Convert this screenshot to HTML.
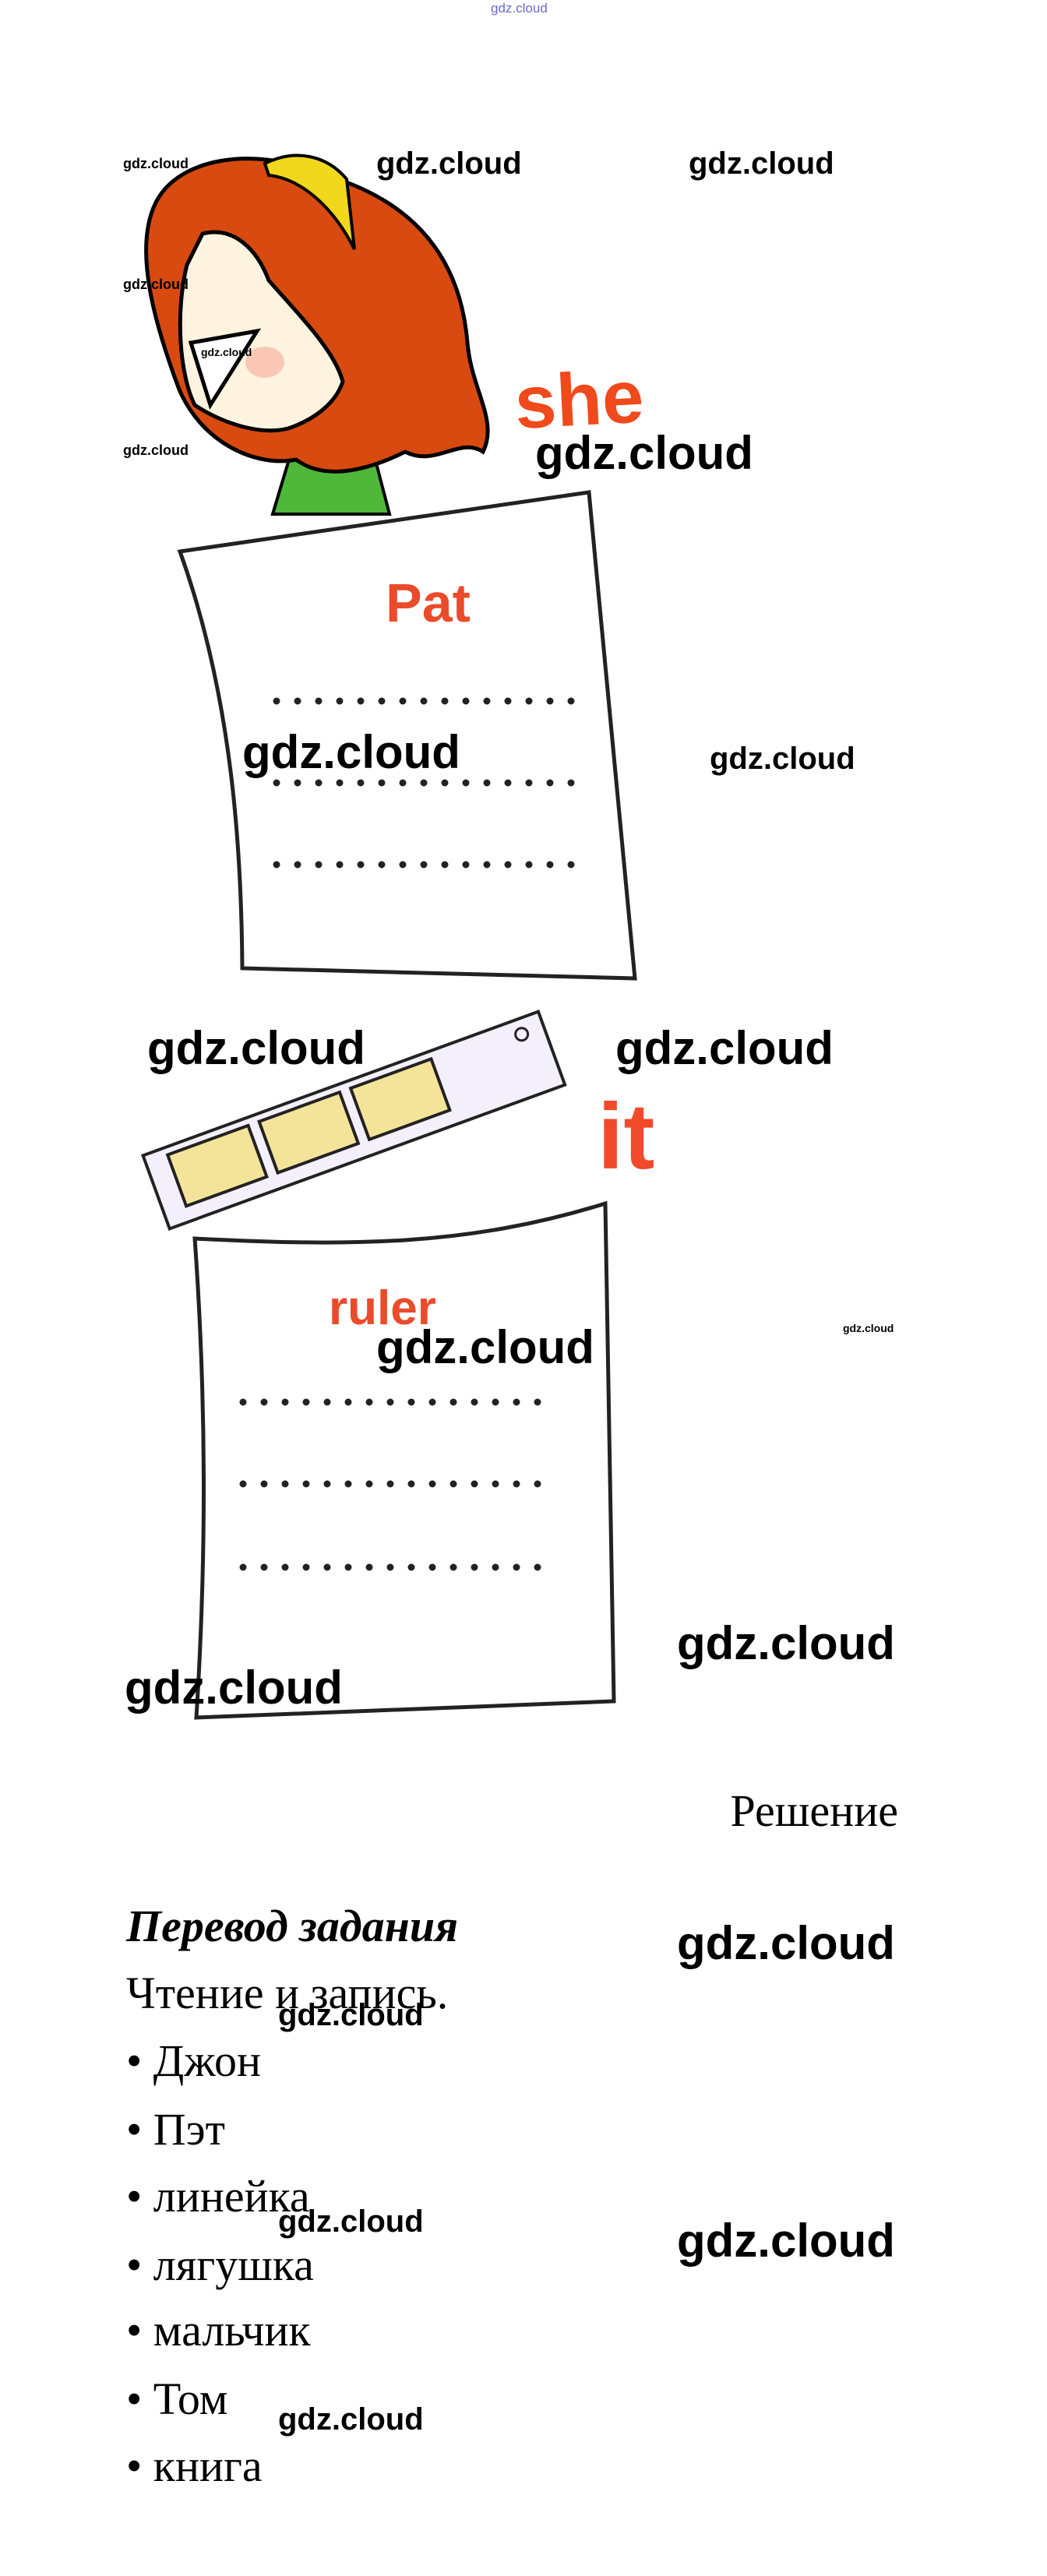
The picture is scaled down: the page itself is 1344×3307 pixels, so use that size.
<!DOCTYPE html>
<html><head><meta charset="utf-8">
<style>
html,body{margin:0;padding:0;background:#fff;}
body{width:1344px;height:3307px;position:relative;overflow:hidden;}
.w{position:absolute;font-family:"Liberation Sans",sans-serif;font-weight:bold;color:#000;white-space:nowrap;line-height:1;}
.L{font-size:60px;} .M{font-size:40px;} .S{font-size:18px;} .T{font-size:14px;}
.t{position:absolute;font-family:"Liberation Serif",serif;font-size:58px;line-height:1;white-space:nowrap;color:#000;}
</style></head><body>

<div class="w" style="left:630px;top:2px;font-size:17px;font-weight:normal;color:#6a6ac8;">gdz.cloud</div>

<svg width="1344" height="2300" style="position:absolute;left:0;top:0" xmlns="http://www.w3.org/2000/svg">
 <path d="M350 660 L380 560 L470 545 L500 660 Z" fill="#4fb83a" stroke="#000" stroke-width="4"/>
 <path d="M200 260 C230 200 330 190 400 220 C520 250 590 320 600 440 C605 500 640 540 620 580 C590 560 560 600 520 580 C480 600 420 620 380 590 C330 600 260 570 230 500 C200 420 170 320 200 260 Z" fill="#d94a10" stroke="#000" stroke-width="5"/>
 <path d="M260 300 C300 290 330 320 345 360 C380 400 430 450 440 490 C430 520 400 540 370 550 C330 560 280 540 250 520 C230 480 225 400 240 340 Z" fill="#fdf3df" stroke="#000" stroke-width="5"/>
 <path d="M245 440 L330 425 L270 520 Z" fill="#fff" stroke="#000" stroke-width="5"/>
 <ellipse cx="340" cy="465" rx="25" ry="20" fill="#f7b4a0" opacity="0.7"/>
 <path d="M340 210 C380 190 420 200 445 230 L455 320 C430 270 390 230 345 225 Z" fill="#f2d81c" stroke="#000" stroke-width="4"/>
 <text x="661" y="548" font-family="Liberation Sans, sans-serif" font-weight="bold" font-size="96" fill="#f04a1c" transform="rotate(-3 700 520)">she</text>
 <path d="M231 708 L756 632 L815 1256 L311 1243 C310 1100 300 900 231 708 Z" fill="#fff" stroke="#222" stroke-width="5"/>
 <text x="495" y="798" font-family="Liberation Sans, sans-serif" font-weight="bold" font-size="70" fill="#ea4b2a">Pat</text>
 <g stroke="#222" stroke-width="9" stroke-linecap="round" stroke-dasharray="0 27">
  <line x1="355" y1="900" x2="740" y2="900"/>
  <line x1="355" y1="1005" x2="740" y2="1005"/>
  <line x1="355" y1="1110" x2="740" y2="1110"/>
 </g>
 <g transform="rotate(-20 480 1450)">
  <rect x="190" y="1380" width="540" height="100" fill="#f4f0fb" stroke="#222" stroke-width="4"/>
  <rect x="220" y="1390" width="110" height="70" fill="#f4e49a" stroke="#222" stroke-width="4"/>
  <rect x="345" y="1390" width="110" height="70" fill="#f4e49a" stroke="#222" stroke-width="4"/>
  <rect x="470" y="1390" width="110" height="70" fill="#f4e49a" stroke="#222" stroke-width="4"/>
  <circle cx="700" cy="1400" r="8" fill="none" stroke="#222" stroke-width="3"/>
 </g>
 <text x="767" y="1500" font-family="Liberation Sans, sans-serif" font-weight="bold" font-size="120" fill="#f04a2a">it</text>
 <path d="M250 1590 C450 1600 600 1600 777 1545 L788 2184 L252 2205 C265 2000 265 1800 250 1590 Z" fill="#fff" stroke="#222" stroke-width="5"/>
 <text x="422" y="1700" font-family="Liberation Sans, sans-serif" font-weight="bold" font-size="62" fill="#ea4b2a">ruler</text>
 <g stroke="#222" stroke-width="9" stroke-linecap="round" stroke-dasharray="0 27">
  <line x1="312" y1="1800" x2="700" y2="1800"/>
  <line x1="312" y1="1905" x2="700" y2="1905"/>
  <line x1="312" y1="2012" x2="700" y2="2012"/>
 </g>
</svg>

<div class="w S" style="left:158px;top:201px;">gdz.cloud</div>
<div class="w M" style="left:483px;top:190px;">gdz.cloud</div>
<div class="w M" style="left:884px;top:190px;">gdz.cloud</div>
<div class="w S" style="left:158px;top:356px;">gdz.cloud</div>
<div class="w T" style="left:258px;top:445px;">gdz.cloud</div>
<div class="w S" style="left:158px;top:569px;">gdz.cloud</div>
<div class="w L" style="left:687px;top:552px;">gdz.cloud</div>
<div class="w L" style="left:311px;top:936px;">gdz.cloud</div>
<div class="w M" style="left:911px;top:954px;">gdz.cloud</div>
<div class="w L" style="left:189px;top:1316px;">gdz.cloud</div>
<div class="w L" style="left:790px;top:1316px;">gdz.cloud</div>
<div class="w L" style="left:483px;top:1700px;">gdz.cloud</div>
<div class="w T" style="left:1082px;top:1698px;">gdz.cloud</div>
<div class="w L" style="left:869px;top:2080px;">gdz.cloud</div>
<div class="w L" style="left:160px;top:2137px;">gdz.cloud</div>

<div class="t" style="right:191px;top:2296px;">Решение</div>
<div class="t" style="left:162px;top:2444px;font-weight:bold;font-style:italic;">Перевод задания</div>
<div class="t" style="left:162px;top:2530px;">Чтение и запись.</div>
<div class="t" style="left:162px;top:2617px;">• Джон</div>
<div class="t" style="left:162px;top:2705px;">• Пэт</div>
<div class="t" style="left:162px;top:2791px;">• линейка</div>
<div class="t" style="left:162px;top:2879px;">• лягушка</div>
<div class="t" style="left:162px;top:2963px;">• мальчик</div>
<div class="t" style="left:162px;top:3051px;">• Том</div>
<div class="t" style="left:162px;top:3137px;">• книга</div>

<div class="w L" style="left:869px;top:2465px;">gdz.cloud</div>
<div class="w M" style="left:357px;top:2567px;">gdz.cloud</div>
<div class="w M" style="left:357px;top:2832px;">gdz.cloud</div>
<div class="w L" style="left:869px;top:2847px;">gdz.cloud</div>
<div class="w M" style="left:357px;top:3086px;">gdz.cloud</div>

</body></html>
